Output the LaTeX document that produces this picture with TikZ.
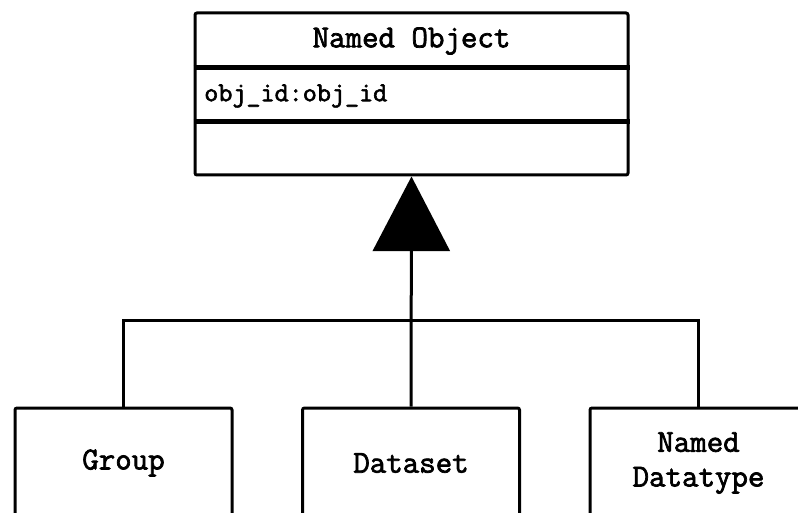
\documentclass[tikz,border=0pt]{standalone}
\usepackage{fontspec}
\setmonofont{Latin Modern Mono}[BoldFont={Latin Modern Mono}, BoldFeatures={FakeBold=2.2}]
\usepackage{tikz}
\usetikzlibrary{arrows.meta, positioning}
\tikzset{
  classbox/.style = {draw, line width=2.25pt, rounded corners=1.5pt, fill=white, inner sep=0pt},
  subbox/.style   = {classbox, minimum width=162.75pt, minimum height=82.5pt, align=center,
                     font=\ttfamily\bfseries\fontsize{24}{26}\selectfont},
  titletext/.style = {inner sep=0pt, font=\ttfamily\bfseries\fontsize{24}{26}\selectfont},
  attrtext/.style  = {inner sep=0pt, font=\ttfamily\bfseries\fontsize{20.5}{24}\selectfont},
  divider/.style  = {line width=3.75pt},
  link/.style     = {line width=2.25pt},
  inherit/.style  = {link, -{Triangle[length=56pt, width=57.75pt]}}
}

\begin{document}
\begin{tikzpicture}[x=0.75pt, y=-0.75pt]
    \useasboundingbox (0,0) rectangle (798,513);
    \clip (0,0) rectangle (798,513);

    % base class
    \node[classbox, minimum width=324.75pt, minimum height=121.5pt] (named) at (411.5,94) {};
    \node[titletext] (namedtitle) at (411.5,41) {Named Object};
    \node[attrtext, anchor=west] (namedattr) at (204,96) {obj\_id:obj\_id};
    \draw[divider] (named.west |- 0,68)  -- (named.east |- 0,68);
    \draw[divider] (named.west |- 0,122) -- (named.east |- 0,122);

    % subclasses
    \node[subbox] (group)    at (123.5,463) {Group};
    \node[subbox] (dataset)  at (411,463)   {Dataset};
    \node[subbox] (datatype) at (698.5,463) {Named\\Datatype};

    \coordinate (fork) at (dataset.north |- 0,320);
    \draw[link] (group.north) |- (fork) -| (datatype.north);
    \draw[inherit] (dataset.north) -- (named.south);
\end{tikzpicture}
\end{document}
